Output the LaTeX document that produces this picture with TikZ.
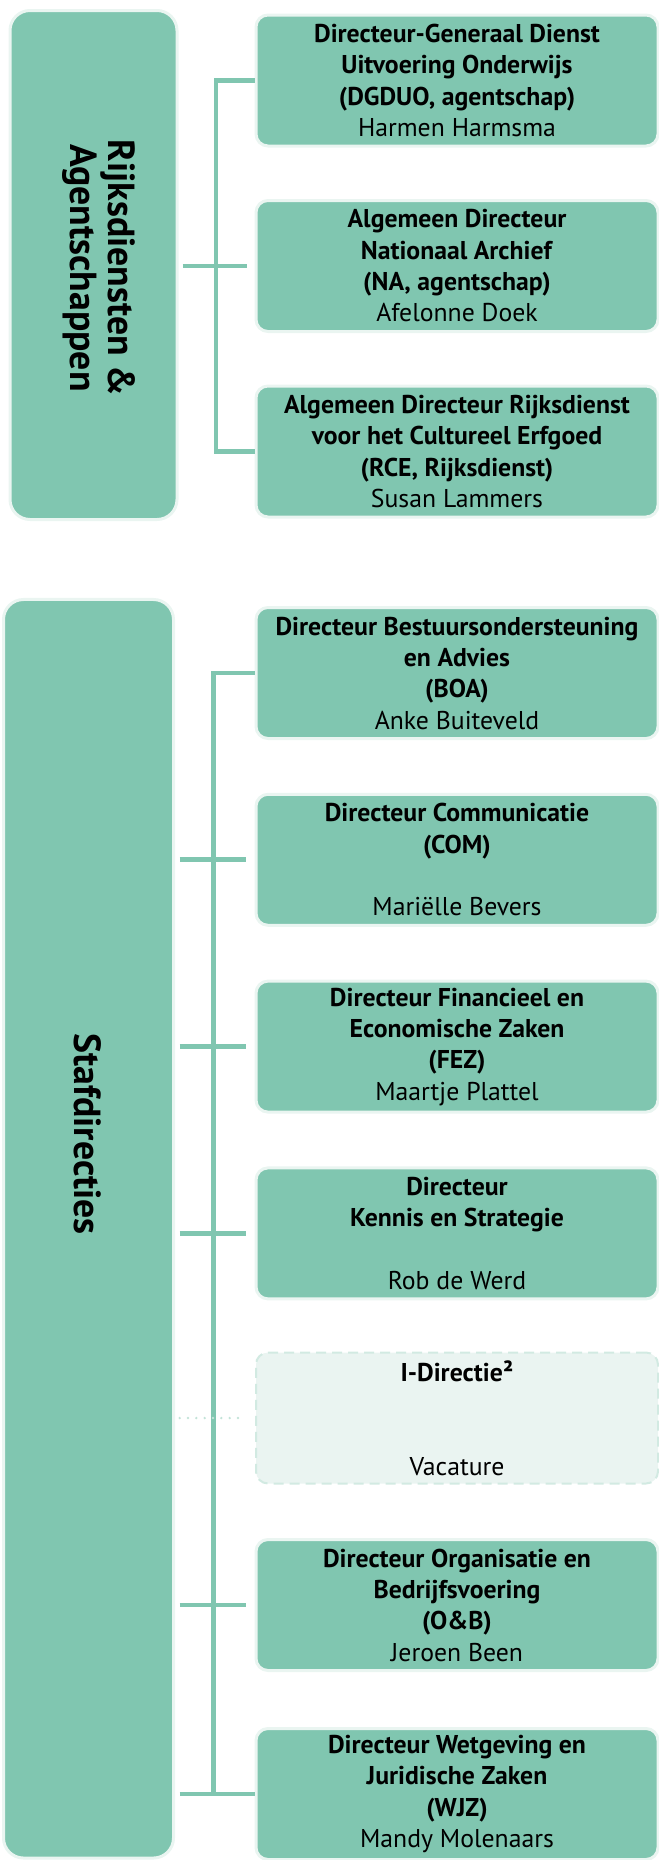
\documentclass[tikz,border=0pt]{standalone}
\usepackage{fontspec}
\setmainfont{PT Sans}
\definecolor{rgreen}{HTML}{80C6B0}
\definecolor{rlight}{HTML}{EAF5F1}
\definecolor{rvac}{HTML}{EAF4F1}
\definecolor{rvacline}{HTML}{D2EAE2}
\definecolor{rdot}{HTML}{C3E3D8}
\tikzset{
  unitbox/.style={draw=rlight, line width=2.25pt, fill=rgreen, rounded corners=9pt,
    minimum width=301.5pt, minimum height=98.25pt, inner sep=0pt, align=center,
    font=\fontsize{19.3}{23.5}\selectfont},
  vacbox/.style={unitbox, draw=rvacline, fill=rvac, line width=1.5pt, dash pattern=on 7.5pt off 4.5pt},
  headbox/.style={draw=rlight, line width=2.25pt, fill=rgreen, rounded corners=15pt, inner sep=0pt},
  titletext/.style={rotate=-90, align=center, font=\fontsize{28.3}{28.5}\selectfont\bfseries, inner sep=0pt},
  link/.style={draw=rgreen, line width=3.7pt},
  vaclink/.style={draw=rdot, line width=2pt, dash pattern=on 0pt off 6.25pt, line cap=round}
}
\begin{document}
\begin{tikzpicture}[x=0.75pt,y=-0.75pt]
\useasboundingbox (0,0) rectangle (659,1860);
\clip (0,0) rectangle (659,1860);
% left title boxes
\node[headbox, minimum width=125.25pt, minimum height=381.75pt] (L1) at (93.5,265) {};
\node[titletext] (T1) at (99,268) {Rijksdiensten \&\\Agentschappen};
\node[headbox, minimum width=127.5pt, minimum height=943.9pt] (L2) at (88.5,1228.75) {};
\node[titletext] (T2) at (88,1134) {Stafdirecties};
% section 1 boxes
\node[unitbox] (R1) at (457,80.5) {\textbf{Directeur-Generaal Dienst}\\\textbf{Uitvoering Onderwijs}\\\textbf{(DGDUO, agentschap)}\\Harmen Harmsma};
\node[unitbox] (R2) at (457,266) {\textbf{Algemeen Directeur}\\\textbf{Nationaal Archief}\\\textbf{(NA, agentschap)}\\Afelonne Doek};
\node[unitbox] (R3) at (457,451.5) {\textbf{Algemeen Directeur Rijksdienst}\\\textbf{voor het Cultureel Erfgoed}\\\textbf{(RCE, Rijksdienst)}\\Susan Lammers};
% section 2 boxes
\node[unitbox] (S1) at (457,673) {\textbf{Directeur Bestuursondersteuning}\\\textbf{en Advies}\\\textbf{(BOA)}\\Anke Buiteveld};
\node[unitbox] (S2) at (457,859.8) {\textbf{Directeur Communicatie}\\\textbf{(COM)}\\\mbox{}\\Mariëlle Bevers};
\node[unitbox] (S3) at (457,1046.6) {\textbf{Directeur Financieel en}\\\textbf{Economische Zaken}\\\textbf{(FEZ)}\\Maartje Plattel};
\node[unitbox] (S4) at (457,1233.4) {\textbf{Directeur}\\\textbf{Kennis en Strategie}\\\mbox{}\\Rob de Werd};
\node[vacbox] (S5) at (457,1418) {\textbf{I-Directie²}\\\mbox{}\\\mbox{}\\Vacature};
\node[unitbox] (S6) at (457,1605) {\textbf{Directeur Organisatie en}\\\textbf{Bedrijfsvoering}\\\textbf{(O\&B)}\\Jeroen Been};
\node[unitbox] (S7) at (457,1794) {\textbf{Directeur Wetgeving en}\\\textbf{Juridische Zaken}\\\textbf{(WJZ)}\\Mandy Molenaars};
% section 1 connectors
\coordinate (v1) at (216,0);
\draw[link] (R1.west) -| (v1 |- R3.west) -- (R3.west);
\draw[link, shorten <=3pt, shorten >=6pt] (L1.east |- R2.west) -- (R2.west);
% section 2 connectors
\coordinate (v2) at (213.5,0);
\draw[link] (S1.west) -| (v2 |- S7.west) -- (S7.west);
\foreach \n in {S2,S3,S4,S6}
  \draw[link, shorten <=3.5pt, shorten >=6.5pt] (L2.east |- \n.west) -- (\n.west);
\draw[link, shorten <=3.5pt, shorten >=1.5pt] (L2.east |- S7.west) -- (S7.west);
\draw[vaclink, shorten <=3.5pt, shorten >=12pt] (L2.east |- S5.west) -- (S5.west);
\end{tikzpicture}
\end{document}
